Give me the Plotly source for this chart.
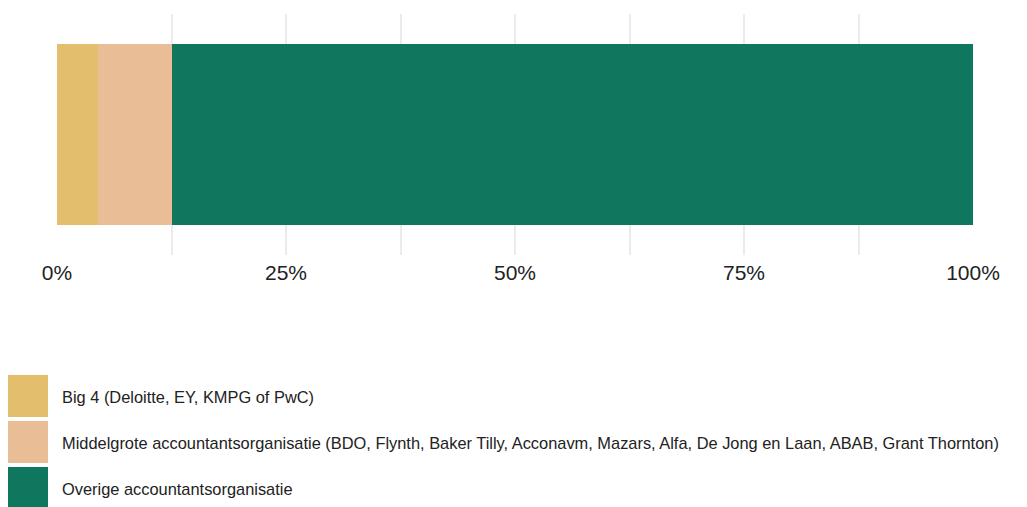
import plotly.graph_objects as go

# data
categories = ["Big 4 (Deloitte, EY, KMPG of PwC)",
              "Middelgrote accountantsorganisatie (BDO, Flynth, Baker Tilly, Acconavm, Mazars, Alfa, De Jong en Laan, ABAB, Grant Thornton)",
              "Overige accountantsorganisatie"]
shares = [4.5, 8.0, 87.5]
colors = ["#E2BE6D", "#E9BE96", "#0E775E"]
tick_vals = [0, 25, 50, 75, 100]
tick_text = ["0%", "25%", "50%", "75%", "100%"]

# page body has an 8px margin, so the figure is shrunk to fit the window
OFF = 8
W, H = 1027 - OFF, 507 - OFF
L, R, T, B = 57 - OFF, 54, 14 - OFF, 252


def px_x(px):
    return (px - OFF - L) / (W - L - R)


def px_y(py):
    return (H - B - (py - OFF)) / (H - T - B)


fig = go.Figure()
for name, val, col in zip(categories, shares, colors):
    fig.add_trace(go.Bar(x=[val], y=[""], orientation="h", name=name,
                         marker=dict(color=col, line=dict(width=0)),
                         showlegend=False, hoverinfo="skip"))

# manual legend with big squares
for i, (name, col) in enumerate(zip(categories, colors)):
    top = 375 + i * 46
    fig.add_shape(type="rect", xref="paper", yref="paper",
                  x0=px_x(5), x1=px_x(48), y0=px_y(top), y1=px_y(top + 42),
                  fillcolor=col, line=dict(width=0))
    fig.add_annotation(xref="paper", yref="paper", x=px_x(60), y=px_y(top + 22),
                       text=name, showarrow=False, xanchor="left", yanchor="middle",
                       font=dict(size=16.4, color="#222222"))

fig.update_layout(
    width=W, height=H,
    barmode="stack", bargap=0.245,
    margin=dict(l=L, r=R, t=T, b=B),
    plot_bgcolor="white", paper_bgcolor="white",
    font=dict(family="Liberation Sans, Arial, sans-serif", color="#222222"),
    xaxis=dict(range=[0, 100], tickvals=tick_vals, ticktext=tick_text,
               showgrid=True, gridcolor="#EBEBEB", gridwidth=1.5, zeroline=False,
               tickfont=dict(size=21, color="#222222"), ticklabelstandoff=3,
               minor=dict(dtick=12.5, showgrid=True, gridcolor="#EBEBEB", gridwidth=1.5),
               fixedrange=True),
    yaxis=dict(showticklabels=False, showgrid=False, zeroline=False, fixedrange=True),
)

fig.write_html("out.html")
